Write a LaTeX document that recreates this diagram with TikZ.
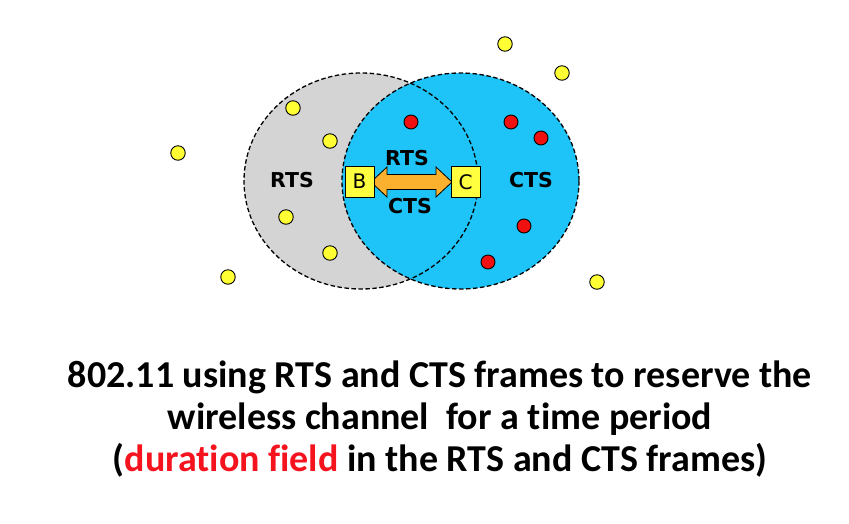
\documentclass[tikz,border=0pt]{standalone}
\usepackage{fontspec}
\setmainfont[Ligatures={NoCommon,NoContextual}]{Carlito}
\newfontfamily\labfont{DejaVu Sans}
\usetikzlibrary{calc}
\definecolor{grayfill}{HTML}{D4D4D4}
\definecolor{bluefill}{HTML}{1EC3F8}
\definecolor{dotyellow}{HTML}{FFFF33}
\definecolor{dotred}{HTML}{F01010}
\definecolor{arroworange}{HTML}{FBB02E}
\definecolor{boxyellow}{HTML}{FFFF40}
\definecolor{titlered}{HTML}{F5141E}
\begin{document}
\begin{tikzpicture}[x=1pt,y=-1pt,
  rangeline/.style={draw=black,line width=1.3pt,dash pattern=on 4.5pt off 2.5pt},
  ydot/.style={circle,draw=black,line width=0.9pt,fill=dotyellow,minimum size=14.5pt,inner sep=0pt},
  rdot/.style={circle,draw=black,line width=0.9pt,fill=dotred,minimum size=14pt,inner sep=0pt},
  stabox/.style={draw=black,line width=1pt,fill=boxyellow,minimum width=29pt,minimum height=31pt,inner sep=0pt,font=\labfont\fontsize{20}{20}\selectfont},
  lab/.style={font=\labfont\bfseries\fontsize{20.5}{20.5}\selectfont,inner sep=0pt},
  titletext/.style={font=\bfseries\fontsize{38}{42}\selectfont,align=center,inner sep=0pt}
]
\useasboundingbox (0,0) rectangle (849,523);
% ranges
\fill[grayfill] (361,181) ellipse [x radius=117, y radius=108];
\fill[bluefill] (460.5,181) ellipse [x radius=118.5, y radius=108];
\draw[rangeline] (361,181) ellipse [x radius=117, y radius=108];
\draw[rangeline] (460.5,181) ellipse [x radius=118.5, y radius=108];
% yellow dots
\node[ydot] (y1) at (178,153) {};
\node[ydot] (y2) at (505,44) {};
\node[ydot] (y3) at (562,73) {};
\node[ydot] (y4) at (293,108) {};
\node[ydot] (y5) at (330,141) {};
\node[ydot] (y6) at (286,217) {};
\node[ydot] (y7) at (330,253) {};
\node[ydot] (y8) at (228,277) {};
\node[ydot] (y9) at (597,282) {};
% red dots
\node[rdot] (r1) at (411,122) {};
\node[rdot] (r2) at (511,122) {};
\node[rdot] (r3) at (541,138) {};
\node[rdot] (r4) at (524,226) {};
\node[rdot] (r5) at (488,262) {};
% stations
\coordinate (Bc) at (359.5,181.5);
\coordinate (Cc) at (465.5,182);
\coordinate (Lt) at (371,182);
\coordinate (Rt) at (452,182);
\filldraw[fill=arroworange,draw=black,line width=0.8pt]
  (Lt) -- ++(16,-15) -- ++(0,7.5) -- ($(Rt)+(-16,-7.5)$) -- ++(0,-7.5) -- (Rt)
  -- ++(-16,15) -- ++(0,-7.5) -- ($(Lt)+(16,7.5)$) -- ++(0,7.5) -- cycle;
\node[stabox] (B) at (Bc) {B};
\node[stabox] (C) at (Cc) {C};
% labels
\node[lab] (rtsup) at (407,158) {RTS};
\node[lab] (ctsdn) at (410,206) {CTS};
\node[lab] (rtsl) at (292,180) {RTS};
\node[lab] (ctsr) at (531,180) {CTS};
% title
\node[titletext] (title) at (440,419) {802.11 using RTS and CTS frames to reserve the\\
wireless channel\ \ for a time period\\
(\textcolor{titlered}{duration field} in the RTS and CTS frames)};
\end{tikzpicture}
\end{document}
